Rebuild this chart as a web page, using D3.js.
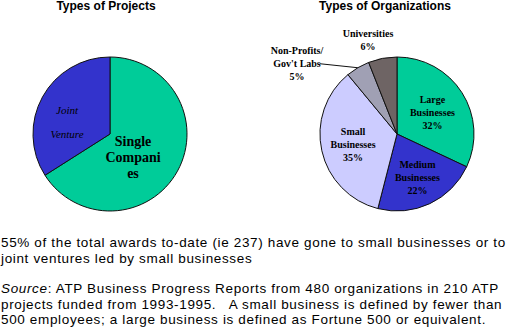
<!DOCTYPE html>
<html>
<head>
<meta charset="utf-8">
<title>ATP Project and Organization Types</title>
<script src="https://d3js.org/d3.v7.min.js"></script>
<style>
    body { margin: 0; padding: 0; background: #ffffff; }
    svg { display: block; }
    .title { font-family: "Liberation Sans", Arial, sans-serif; font-weight: bold; font-size: 12px; }
    .lbl { font-family: "Liberation Serif", "Times New Roman", serif; font-weight: bold; font-size: 10px; }
    .note { font-family: "Liberation Sans", Arial, sans-serif; font-size: 13.5px; letter-spacing: 0.65px; }
</style>
</head>
<body>
<div id="chart"></div>
<script>
    // Types of Projects (percent of projects)
    var projectTypes = ["Single Companies", "Joint Venture"];
    var projectValues = [66, 34];

    // Types of Organizations (percent of organizations)
    var orgTypes = ["Large Businesses", "Medium Businesses", "Small Businesses", "Non-Profits/ Gov't Labs", "Universities"];
    var orgValues = [32, 22, 35, 5, 6];

    var noteLines = [
        "55% of the total awards to-date (ie 237) have gone to small businesses or to",
        "joint ventures led by small businesses"
    ];

    var width = 512, height = 330;
    var radius = 77;

    var svg = d3.select("#chart").append("svg")
        .attr("width", width)
        .attr("height", height);

    var pie = d3.pie().sort(null).value(function (d) { return d; });
    var arc = d3.arc().innerRadius(0).outerRadius(radius);

    // ---- left pie
    var projColor = d3.scaleOrdinal().domain(projectTypes).range(["#00cc99", "#3333cc"]);
    var left = svg.append("g").attr("transform", "translate(110,134)");

    left.selectAll("path")
        .data(pie(projectValues))
        .enter()
        .append("path")
        .attr("d", arc)
        .attr("fill", function (d, i) { return projColor(projectTypes[i]); })
        .attr("stroke", "#111")
        .attr("stroke-width", 1);

    svg.append("text")
        .attr("class", "title")
        .attr("x", 106).attr("y", 10)
        .attr("text-anchor", "middle")
        .text("Types of Projects");

    // label lines for left pie; text broken as in the original slide
    var projLabels = [
        { lines: ["Single", "Compani", "es"], dx: 23, dy: 12, size: 14, italic: false, bold: true, lh: 16 },
        { lines: ["Joint", "Venture"], dx: -43, dy: -20, size: 11, italic: true, bold: false, lh: 24 }
    ];
    projLabels.forEach(function (l) {
        var t = left.append("text")
            .attr("text-anchor", "middle")
            .style("font-family", "'Liberation Serif', 'Times New Roman', serif")
            .style("font-size", l.size + "px")
            .style("font-weight", l.bold ? "bold" : "normal")
            .style("font-style", l.italic ? "italic" : "normal");
        l.lines.forEach(function (s, i) {
            t.append("tspan").attr("x", l.dx).attr("y", l.dy + i * l.lh).text(s);
        });
    });

    // ---- right pie
    var orgColor = d3.scaleOrdinal().domain(orgTypes)
        .range(["#00cc99", "#3333cc", "#ccccff", "#a0a0b4", "#6e6464"]);
    var right = svg.append("g").attr("transform", "translate(397,134)");
    var orgArcs = pie(orgValues);

    right.selectAll("path")
        .data(orgArcs)
        .enter()
        .append("path")
        .attr("d", arc)
        .attr("fill", function (d, i) { return orgColor(orgTypes[i]); })
        .attr("stroke", "#111")
        .attr("stroke-width", 1);

    svg.append("text")
        .attr("class", "title")
        .attr("x", 385).attr("y", 10)
        .attr("text-anchor", "middle")
        .text("Types of Organizations");

    var orgLabelLines = [
        ["Large", "Businesses", "32%"],
        ["Medium", "Businesses", "22%"],
        ["Small", "Businesses", "35%"],
        ["Non-Profits/", "Gov't Labs", "5%"],
        ["Universities", "6%"]
    ];
    // inside labels sit on the slice centroid at radius r; outside ones are placed by offset
    var orgLabelPos = [
        { r: 42, dx: 0, dy: -12 },
        { r: 48, dx: 0, dy: -12 },
        { r: 45, dx: 0, dy: -12 },
        { r: 0, dx: -100, dy: -83 },
        { r: 0, dx: -29, dy: -100 }
    ];
    orgArcs.forEach(function (a, i) {
        var p = orgLabelPos[i];
        var c = p.r ? d3.arc().innerRadius(p.r).outerRadius(p.r).centroid(a) : [0, 0];
        var t = right.append("text")
            .attr("class", "lbl")
            .attr("text-anchor", "middle");
        orgLabelLines[i].forEach(function (s, j) {
            t.append("tspan")
                .attr("x", c[0] + p.dx)
                .attr("y", c[1] + p.dy + j * 13 + 3)
                .text(s);
        });
    });

    // leader line to the Non-Profits slice
    var np = orgArcs[3];
    var npEdge = d3.arc().innerRadius(radius).outerRadius(radius).centroid(np);
    right.append("line")
        .attr("x1", npEdge[0] - 38).attr("y1", npEdge[1] - 4)
        .attr("x2", npEdge[0]).attr("y2", npEdge[1])
        .attr("stroke", "#111")
        .attr("stroke-width", 1);

    // ---- notes
    svg.selectAll(".noteline")
        .data(noteLines)
        .enter()
        .append("text")
        .attr("class", "note")
        .attr("x", 1)
        .attr("y", function (d, i) { return 247 + i * 16; })
        .text(function (d) { return d; });

    var src = svg.append("text").attr("class", "note").attr("x", 1).attr("y", 293);
    src.append("tspan").style("font-style", "italic").text("Source");
    src.append("tspan").text(": ATP Business Progress Reports from 480 organizations in 210 ATP");
    svg.append("text").attr("class", "note").attr("x", 1).attr("y", 308.5)
        .attr("xml:space", "preserve")
        .text("projects funded from 1993-1995.   A small business is defined by fewer than");
    svg.append("text").attr("class", "note").attr("x", 1).attr("y", 324)
        .text("500 employees; a large business is defined as Fortune 500 or equivalent.");
</script>
</body>
</html>
